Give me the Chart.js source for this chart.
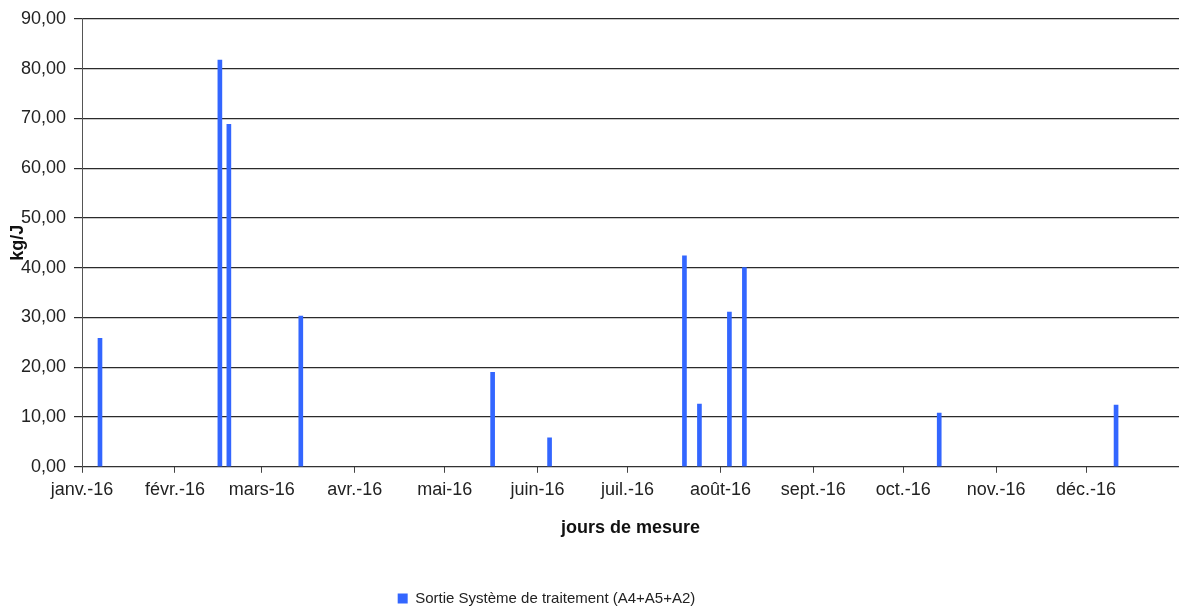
<!DOCTYPE html>
<html>
<head>
<meta charset="utf-8">
<script src="https://cdn.jsdelivr.net/npm/chart.js@4"></script>
<style>
  html, body { margin: 0; padding: 0; background: #fff; }
  #wrap { width: 1179px; height: 610px; }
</style>
</head>
<body>
<div id="wrap"><canvas id="chart"></canvas></div>
<script>
const measureDates = ['2016-01-07', '2016-02-16', '2016-02-19', '2016-03-14', '2016-05-17', '2016-06-05',
                      '2016-07-20', '2016-07-25', '2016-08-04', '2016-08-09', '2016-10-13', '2016-12-11'];
const sortieValues = [25.8, 81.7, 68.8, 30.3, 19.0, 5.8, 42.4, 12.6, 31.1, 40.0, 10.8, 12.4];
const monthLabels = ['janv.-16', 'févr.-16', 'mars-16', 'avr.-16', 'mai-16', 'juin-16',
                     'juil.-16', 'août-16', 'sept.-16', 'oct.-16', 'nov.-16', 'déc.-16'];
const seriesName = 'Sortie Système de traitement (A4+A5+A2)';

const DAY = 86400000;
const start = Date.UTC(2016, 0, 1);
const dayOf = s => (Date.parse(s + 'T00:00:00Z') - start) / DAY;
const monthTicks = monthLabels.map((_, m) => (Date.UTC(2016, m, 1) - start) / DAY);

const points = measureDates.map((d, i) => ({ x: dayOf(d), y: sortieValues[i] }));
const family = '"Liberation Sans", Arial, sans-serif';
const font = { family: family, size: 18 };

// the legend sits a bit left of the canvas centre (and lower) in the original
const shiftLegend = {
    id: 'shiftLegend',
    afterLayout(chart) {
        const lg = chart.legend;
        if (!lg) return;
        lg.left -= 43;
        lg.right -= 43;
        lg.top += 6;
        lg.bottom += 6;
    }
};

new Chart(document.getElementById('chart'), {
    type: 'bar',
    data: {
        datasets: [{
            label: seriesName,
            data: points,
            backgroundColor: '#3366ff',
            borderWidth: 0,
            barThickness: 4
        }]
    },
    options: {
        responsive: true,
        maintainAspectRatio: false,
        animation: false,
        layout: { padding: { top: 18, right: 0, left: 0, bottom: 0 } },
        scales: {
            x: {
                type: 'linear',
                min: 0,
                max: 366,
                offset: false,
                afterBuildTicks: axis => {
                    axis.ticks = monthTicks.map(v => ({ value: v }));
                },
                ticks: {
                    autoSkip: false,
                    maxRotation: 0,
                    color: '#222',
                    font: font,
                    padding: 6,
                    callback: (v) => monthLabels[monthTicks.indexOf(v)]
                },
                grid: {
                    offset: false,
                    drawOnChartArea: false,
                    drawTicks: true,
                    tickLength: 6,
                    color: '#444'
                },
                border: { display: true, color: '#333' },
                title: {
                    display: true,
                    text: 'jours de mesure',
                    color: '#111',
                    font: { family: family, size: 18, weight: 'bold' },
                    padding: { top: 11, bottom: 44 }
                }
            },
            y: {
                min: 0,
                max: 90,
                afterFit: axis => { axis.width = 82; },
                ticks: {
                    stepSize: 10,
                    color: '#222',
                    font: font,
                    padding: 8,
                    callback: v => v.toFixed(2).replace('.', ',')
                },
                grid: {
                    color: '#2b2b2b',
                    lineWidth: 1.2,
                    tickLength: 8
                },
                border: { display: true, color: '#555' },
                title: {
                    display: true,
                    text: 'kg/J',
                    color: '#111',
                    font: { family: family, size: 18, weight: 'bold' },
                    padding: { top: 7, bottom: 0 }
                }
            }
        },
        plugins: {
            legend: {
                position: 'bottom',
                labels: {
                    color: '#222',
                    font: { family: family, size: 15 },
                    boxWidth: 10,
                    boxHeight: 10,
                    padding: 2
                }
            },
            tooltip: { enabled: false }
        }
    },
    plugins: [shiftLegend]
});
</script>
</body>
</html>
